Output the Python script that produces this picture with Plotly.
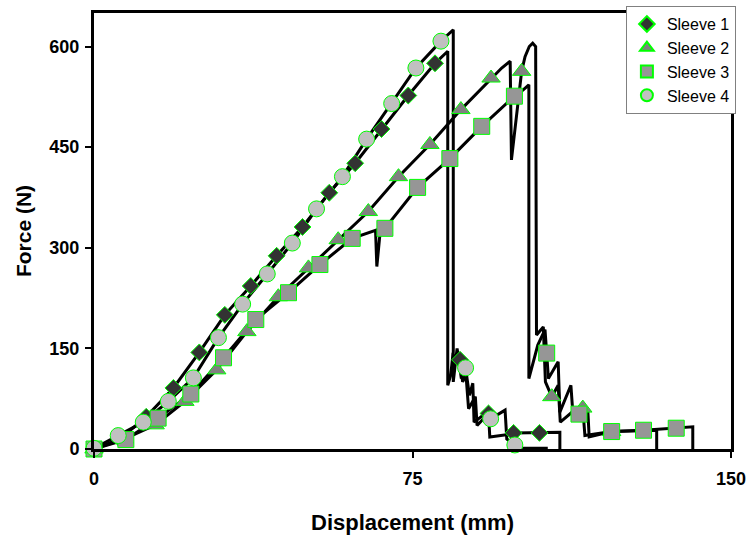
import plotly.graph_objects as go

# ---------------- data ----------------
series_names = ["Sleeve 1", "Sleeve 2", "Sleeve 3", "Sleeve 4"]

# marker positions
s1_mx = [0, 6.1, 12.3, 18.7, 24.8, 30.8, 36.9, 43.0, 49.1, 55.4, 61.5, 67.7, 74.0, 80.3, 86.2, 92.9, 98.8, 104.9]
s1_my = [0, 15, 48, 91, 144, 200, 243, 288, 331, 382, 426, 477, 527, 575, 133, 53, 24, 24]

s2_mx = [0, 7.2, 14.4, 21.4, 28.9, 36.0, 43.4, 50.5, 57.5, 64.6, 71.7, 79.1, 86.4, 93.5, 100.7, 107.8, 115.1, 121.9]
s2_my = [0, 15, 36, 71, 118, 175, 227, 270, 312, 354, 406, 454, 506, 553, 563, 78, 61, 26]

s3_mx = [0, 7.5, 15.1, 22.8, 30.5, 38.1, 45.8, 53.2, 60.8, 68.5, 76.2, 83.8, 91.3, 99.0, 106.6, 114.2, 121.9, 129.4, 137.1]
s3_my = [0, 14, 46, 82, 136, 193, 233, 275, 314, 329, 390, 433, 481, 526, 143, 52, 26, 28, 31]

s4_mx = [0, 5.7, 11.6, 17.5, 23.4, 29.3, 35.0, 40.8, 46.7, 52.4, 58.5, 64.2, 70.1, 75.8, 81.7, 87.5, 93.4, 99.1]
s4_my = [1, 20, 40, 71, 106, 166, 216, 261, 307, 358, 406, 462, 515, 568, 608, 121, 45, 6]

# full force-displacement traces (lines)
s1_lx = [0, 6.1, 12.3, 18.7, 24.8, 30.8, 36.9, 43.0, 49.1, 55.4, 61.5, 67.7, 74.0, 80.3, 82.5, 83.3,
         83.3, 84.0, 84.5, 86.2, 86.8, 87.6, 88.2, 89.8, 90.2, 92.9, 93.2, 98.0, 98.8, 104.9, 109.7, 109.7]
s1_ly = [0, 15, 48, 91, 144, 200, 243, 288, 331, 382, 426, 477, 527, 575, 588, 593,
         95, 110, 140, 133, 100, 110, 60, 78, 35, 53, 18, 22, 24, 24, 25, 0]

s2_lx = [0, 7.2, 14.4, 21.4, 28.9, 36.0, 43.4, 50.5, 57.5, 64.6, 71.7, 79.1, 86.4, 93.5, 96.0, 98.0,
         98.3, 100.7, 101.5, 102.5, 103.3, 104.0, 104.2, 105.8, 106.3, 107.8, 109.3, 109.8, 113.5,
         115.1, 115.6, 121.9, 132.5, 132.5]
s2_ly = [0, 15, 36, 71, 118, 175, 227, 270, 312, 354, 406, 454, 506, 553, 568, 578,
         431, 563, 585, 600, 605, 600, 170, 182, 100, 78, 95, 40, 60,
         61, 20, 26, 28, 0]

s3_lx = [0, 7.5, 15.1, 22.8, 30.5, 38.1, 45.8, 53.2, 60.8, 64.5, 66.3, 66.6, 67.3, 68.5, 76.2, 83.8,
         91.3, 99.0, 101.0, 102.4, 102.4, 104.5, 106.2, 106.6, 107.0, 109.3, 109.7, 112.3, 112.8,
         114.2, 116.3, 116.6, 121.9, 129.4, 137.1, 141.0, 141.0]
s3_ly = [0, 14, 46, 82, 136, 193, 233, 275, 314, 322, 326, 272, 318, 329, 390, 433,
         481, 526, 535, 543, 105, 155, 178, 143, 105, 130, 55, 95, 50,
         52, 55, 18, 26, 28, 31, 33, 0]

s4_lx = [0, 5.7, 11.6, 17.5, 23.4, 29.3, 35.0, 40.8, 46.7, 52.4, 58.5, 64.2, 70.1, 75.8, 81.7, 84.0,
         84.6, 84.6, 85.5, 86.5, 87.5, 88.4, 89.2, 89.5, 92.6, 93.4, 96.8, 97.2, 99.1, 100.0,
         106.5, 106.5]
s4_ly = [1, 20, 40, 71, 106, 166, 216, 261, 307, 358, 406, 462, 515, 568, 608, 622,
         625, 100, 150, 105, 121, 80, 98, 40, 55, 45, 58, 15, 6, 1,
         1, 0]

x_ticks = [0, 75, 150]
y_ticks = [0, 150, 300, 450, 600]

# ---------------- styling ----------------
FONT = "Arial, Liberation Sans, sans-serif"
symbols = ["diamond", "triangle-up", "square", "circle"]
fills = ["#333333", "#808080", "#969696", "#C0C0C0"]
sizes = [13, 16, 16, 16]
edge = "#00FF00"

lines = [(s1_lx, s1_ly), (s2_lx, s2_ly), (s3_lx, s3_ly), (s4_lx, s4_ly)]
marks = [(s1_mx, s1_my), (s2_mx, s2_my), (s3_mx, s3_my), (s4_mx, s4_my)]

fig = go.Figure()
for (lx, ly) in lines:
    fig.add_trace(go.Scatter(x=lx, y=ly, mode="lines", showlegend=False,
                             line=dict(color="black", width=3), hoverinfo="skip",
                             cliponaxis=False))
for name, (mx, my), sym, fc, sz in zip(series_names, marks, symbols, fills, sizes):
    fig.add_trace(go.Scatter(x=mx, y=my, mode="markers", name=name, cliponaxis=False,
                             marker=dict(symbol=sym, color=fc, size=sz,
                                         line=dict(color=edge, width=1))))

fig.update_layout(
    width=750, height=542,
    margin=dict(l=94, r=19, t=13, b=93, autoexpand=False),
    paper_bgcolor="white", plot_bgcolor="white",
    font=dict(family=FONT, color="black"),
    legend=dict(x=0.835, y=1.016, xanchor="left", yanchor="top",
                bgcolor="white", bordercolor="#808080", borderwidth=1,
                font=dict(family=FONT, size=16, color="black"),
                itemsizing="constant", itemwidth=30, tracegroupgap=0),
    showlegend=True,
)
fig.update_xaxes(range=[0, 150], tickvals=x_ticks, ticktext=[str(v) for v in x_ticks],
                 showline=True, linewidth=3, linecolor="black", mirror=True,
                 ticks="outside", ticklen=6, tickwidth=2, tickcolor="black",
                 showgrid=False, zeroline=False, automargin=False,
                 tickfont=dict(family=FONT, size=18, color="black", weight="bold"),
                 ticklabelstandoff=5,
                 title=dict(text="<b>Displacement (mm)</b>", standoff=28,
                            font=dict(family=FONT, size=22, color="black")))
fig.update_yaxes(range=[0, 650], tickvals=y_ticks, ticktext=[str(v) for v in y_ticks],
                 showline=True, linewidth=3, linecolor="black", mirror=True,
                 ticks="outside", ticklen=6, tickwidth=2, tickcolor="black",
                 showgrid=False, zeroline=False, automargin=False,
                 tickfont=dict(family=FONT, size=18, color="black", weight="bold"),
                 ticklabelstandoff=2,
                 title=dict(text="<b>Force (N)</b>", standoff=13,
                            font=dict(family=FONT, size=21, color="black")))

fig.write_html("out.html", config={"displayModeBar": False},
               post_script="document.body.style.margin='0';document.body.style.padding='0';")
